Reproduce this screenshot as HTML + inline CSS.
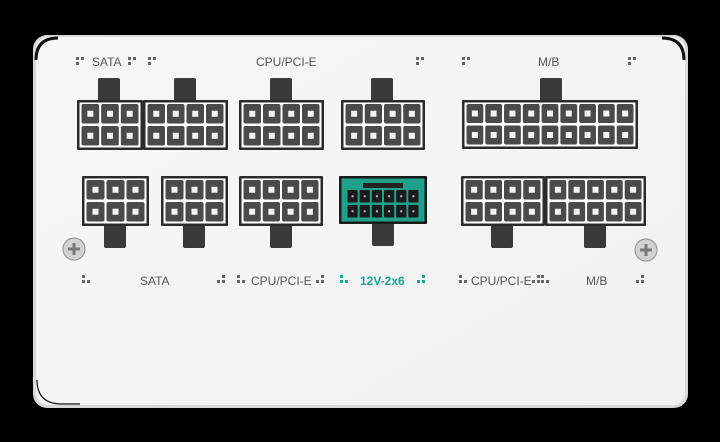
<!DOCTYPE html>
<html><head><meta charset="utf-8">
<style>
html,body{margin:0;padding:0;background:#000;}
body{width:720px;height:442px;overflow:hidden;position:relative;}
svg{position:absolute;left:0;top:0;}
.t{font-family:"Liberation Sans",sans-serif;font-size:12px;fill:#555;}
</style></head><body>
<svg id="s" width="720" height="442" viewBox="0 0 720 442" xmlns="http://www.w3.org/2000/svg">
<defs>
<linearGradient id="pg" x1="0" y1="0" x2="1" y2="1">
<stop offset="0" stop-color="#f7f7f7"/><stop offset="1" stop-color="#f1f1f1"/>
</linearGradient>
</defs>
<rect x="33" y="35" width="655" height="373" rx="14" fill="#d8d8d8"/>
<rect x="36" y="37" width="649" height="368" rx="12" fill="url(#pg)"/>
<path d="M36 60 Q36 38 58 38" stroke="#111" stroke-width="3" fill="none"/>
<path d="M662 38 Q684 38 684 60" stroke="#111" stroke-width="3" fill="none"/>
<path d="M37 380 Q37 404 62 404 L80 404" stroke="#111" stroke-width="1.2" fill="none"/>
<g id="c"></g>
<text class="t" x="92" y="66">SATA</text>
<text class="t" x="256" y="66">CPU/PCI-E</text>
<text class="t" x="538" y="66">M/B</text>
<text class="t" x="140" y="285">SATA</text>
<text class="t" x="251" y="285">CPU/PCI-E</text>
<text class="t" x="360" y="285" style="fill:#1aa58f;font-weight:bold">12V-2x6</text>
<text class="t" x="471" y="285">CPU/PCI-E</text>
<text class="t" x="586" y="285">M/B</text>
<g fill="#d2d2d2" stroke="#9a9a9a" stroke-width="1.2">
<circle cx="74" cy="249" r="11"/><circle cx="646" cy="250" r="11"/>
</g>
<g stroke="#777" stroke-width="3" fill="none">
<path d="M68 249h12M74 243v12"/><path d="M640 250h12M646 244v12"/>
</g>
</svg>
<script>
var g=document.getElementById('c'),h='';
function R(x,y,w,hh,f,extra){h+='<rect x="'+x+'" y="'+y+'" width="'+w+'" height="'+hh+'" fill="'+f+'" '+(extra||'')+'/>';}
function conn(x1,x2,y1,y2,tabs,up,teal){
 var body=teal?'#1fa08a':'#fff', edge=teal?'#1a1a1a':'#2b2b2b';
 tabs.forEach(function(t){ if(up) R(t,y1-22,22,24,'#3a3a3a','rx="2"'); else R(t,y2-2,22,24,'#3a3a3a','rx="2"'); });
 R(x1,y1,x2-x1,y2-y1,edge,'rx="1"');
 R(x1+2.5,y1+2.5,x2-x1-5,y2-y1-5,body);
}
function pins(x1,x2,y1,y2,n,teal){
 var w=(x2-x1-7)/n, ph=(y2-y1-9)/2;
 for(var r=0;r<2;r++)for(var i=0;i<n;i++){
  var px=x1+3.5+i*w+1, py=y1+4+r*(ph+1.5);
  if(teal){R(px,py,w-2,ph-1,'#1b1b1b','rx="1"');R(px+w/2-2,py+ph/2-1.5,2,2,'#bbb');}
  else{R(px,py,w-2,ph-1,'#4a4a4a','rx="2"');R(px+(w-2)/2-3,py+(ph-1)/2-3,6,6,'#f4f4f4');}
 }
}
conn(77,143,100,150,[98],true);pins(77,143,100,150,3);
conn(143,228,100,150,[174],true);pins(143,228,100,150,4);
conn(239,324,100,150,[270],true);pins(239,324,100,150,4);
conn(341,425,100,150,[371],true);pins(341,425,100,150,4);
conn(462,638,100,149,[540],true);pins(462,638,100,149,9);
conn(82,149,176,226,[104],false);pins(82,149,176,226,3);
conn(161,228,176,226,[183],false);pins(161,228,176,226,3);
conn(239,323,176,226,[270],false);pins(239,323,176,226,4);
conn(339,427,176,224,[372],false,true);
R(363,183,40,5,'#222');
pins(343,423,186,222,6,true);
conn(461,545,176,226,[491],false);pins(461,545,176,226,4);
conn(545,646,176,226,[584],false);pins(545,646,176,226,5);
function dots(x,y,col){col=col||'#666';R(x,y,3,3,col);R(x+5,y,3,3,col);R(x,y+5,3,3,col);}
function dots2(x,y,col){col=col||'#666';R(x,y,3,3,col);R(x,y+5,3,3,col);R(x+5,y+5,3,3,col);}
function dots3(x,y,col){col=col||'#666';R(x+5,y,3,3,col);R(x,y+5,3,3,col);R(x+5,y+5,3,3,col);}
dots(76,57);dots(128,57);dots(148,57);dots(416,57);dots(462,57);dots(628,57);
dots2(82,275);dots3(217,275);dots2(237,275);dots3(316,275);dots2(340,275,'#1aa58f');dots3(417,275,'#1aa58f');
dots2(459,275);dots3(532,275);dots2(541,275);dots3(636,275);
g.innerHTML=h;
</script>
</body></html>
